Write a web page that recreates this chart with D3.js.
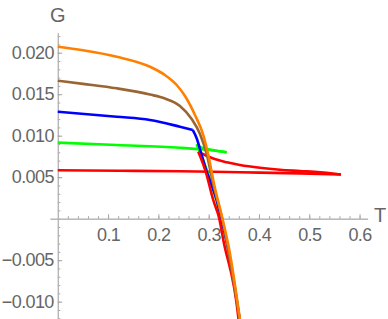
<html><head>
<meta charset="utf-8">
<title>G vs T</title>
<script type="text/javascript" src="https://d3js.org/d3.v7.min.js"></script>
<style>
  body { margin: 0; background: #fff; }
  .tick text { font-family: "Liberation Sans", Arial, sans-serif; font-size: 18px; letter-spacing: -0.6px; fill: #666; }
  .lbl { font-family: "Liberation Sans", Arial, sans-serif; font-size: 20px; fill: #666; }
</style>
</head>
<body>
<div id="chart"></div>
<script>

// tick values and labels
var xTicks = [0.1, 0.2, 0.3, 0.4, 0.5, 0.6];
var xTickLabels = ["0.1", "0.2", "0.3", "0.4", "0.5", "0.6"];
var yTicks = [-0.010, -0.005, 0.005, 0.010, 0.015, 0.020];
var yTickLabels = ["\u22120.010", "\u22120.005", "0.005", "0.010", "0.015", "0.020"];

// each branch: [T, G] pairs
var orange = [[0, 0.02072], [0.05, 0.02030], [0.1171, 0.01952], [0.1833, 0.01831], [0.2131, 0.01731],
  [0.2364, 0.01611], [0.2529, 0.01478], [0.2728, 0.01249], [0.2893, 0.01008], [0.2992, 0.00767],
  [0.3111, 0.00406], [0.3274, 0.0000], [0.3410, -0.00377], [0.3630, -0.0125]];

var brown = [[0, 0.01663], [0.05, 0.01625], [0.1171, 0.01571], [0.1833, 0.01496], [0.2131, 0.01448],
  [0.2429, 0.01358], [0.2662, 0.01201], [0.2827, 0.01020], [0.2960, 0.00780], [0.3095, 0.00406],
  [0.3268, 0.0000], [0.3625, -0.0125]];

var blueSmall = [[0, 0.01289], [0.1171, 0.01229], [0.1833, 0.01190], [0.2429, 0.01108], [0.2682, 0.01069]];
var blueLarge = [[0.2682, 0.01069], [0.2761, 0.00969], [0.2861, 0.00767], [0.2960, 0.00566],
  [0.3060, 0.00403], [0.3159, 0.00225], [0.3250, 0.0000], [0.3400, -0.00400], [0.3625, -0.0125]];

var greenSmall = [[0, 0.00916], [0.1171, 0.00888], [0.2429, 0.00855], [0.2900, 0.00833], [0.3358, 0.00800]];
var greenMid = [[0.2761, 0.00896], [0.2850, 0.00858], [0.3050, 0.00830], [0.3358, 0.00800]];
var greenLarge = [[0.2761, 0.00896], [0.2926, 0.00647], [0.3040, 0.00450], [0.3250, 0.0000], [0.3400, -0.00400], [0.3625, -0.0125]];

var redSmall = [[0, 0.00583], [0.1237, 0.00578], [0.2429, 0.00572], [0.3622, 0.00559], [0.4815, 0.00546], [0.5630, 0.00533]];
var redMid = [[0.2793, 0.00807], [0.2926, 0.00767], [0.3091, 0.00725], [0.3358, 0.00680], [0.3622, 0.00647],
  [0.4020, 0.00613], [0.4417, 0.00590], [0.4815, 0.00575], [0.5213, 0.00560], [0.5630, 0.00533]];
var redLarge = [[0.2793, 0.00807], [0.2960, 0.00527], [0.3012, 0.00406], [0.3091, 0.00225], [0.3211, 0.0000],
  [0.3290, -0.00253], [0.3588, -0.01181], [0.3600, -0.0125]];

var width = 388, height = 319;

var svg = d3.select("#chart")
  .append("svg")
    .attr("width", width)
    .attr("height", height);

var x = d3.scaleLinear().domain([-0.0155, 0.616]).range([50, 367.6]);
var y = d3.scaleLinear().domain([-0.0121, 0.0224]).range([319.1, 32.8]);

// minor ticks
var xMinor = d3.range(0.02, 0.601, 0.02);
var yMinor = d3.range(-0.012, 0.0221, 0.001);

svg.append("g")
    .attr("transform", "translate(0," + y(0) + ")")
    .call(d3.axisBottom(x).tickValues(xMinor).tickSize(-2.5).tickSizeOuter(0).tickFormat(""));

svg.append("g")
    .attr("transform", "translate(" + x(0) + ",0)")
    .call(d3.axisLeft(y).tickValues(yMinor).tickSize(-2.5).tickSizeOuter(0).tickFormat(""));

var xAxis = svg.append("g")
    .attr("transform", "translate(0," + y(0) + ")")
    .call(d3.axisBottom(x)
      .tickValues(xTicks)
      .tickSize(-4.5)
      .tickSizeOuter(0)
      .tickPadding(10)
      .tickFormat(function(d, i) { return xTickLabels[i]; }));

var yAxis = svg.append("g")
    .attr("transform", "translate(" + x(0) + ",0)")
    .call(d3.axisLeft(y)
      .tickValues(yTicks)
      .tickSize(-4.5)
      .tickSizeOuter(0)
      .tickPadding(4)
      .tickFormat(function(d, i) { return yTickLabels[i]; }));

svg.selectAll(".domain").attr("stroke", "#b3b3b3");
svg.selectAll(".tick line").attr("stroke", "#a6a6a6");

svg.append("text").attr("class", "lbl")
  .attr("x", x(0)).attr("y", 22)
  .attr("text-anchor", "middle")
  .text("G");

svg.append("text").attr("class", "lbl")
  .attr("x", 380).attr("y", 222)
  .attr("text-anchor", "middle")
  .text("T");

svg.append("clipPath").attr("id", "clip")
  .append("rect").attr("x", 0).attr("y", 0).attr("width", width).attr("height", height);

var line = d3.line()
  .x(function(d) { return x(d[0]); })
  .y(function(d) { return y(d[1]); })
  .curve(d3.curveMonotoneX);

// later branches sit on top
var branches = [
  [redSmall, "#ff0000"], [redMid, "#ff0000"],
  [greenSmall, "#00ff00"], [greenMid, "#00ff00"], [greenLarge, "#00ff00"],
  [blueSmall, "#0000ff"], [blueLarge, "#0000ff"],
  [redLarge, "#ff0000"],
  [brown, "#996633"],
  [orange, "#ff8000"]
];

var g = svg.append("g").attr("clip-path", "url(#clip)");

branches.forEach(function(b) {
  g.append("path")
    .datum(b[0])
    .attr("fill", "none")
    .attr("stroke", b[1])
    .attr("stroke-width", 2.6)
    .attr("stroke-linejoin", "round")
    .attr("d", line);
});

</script>
</body></html>
